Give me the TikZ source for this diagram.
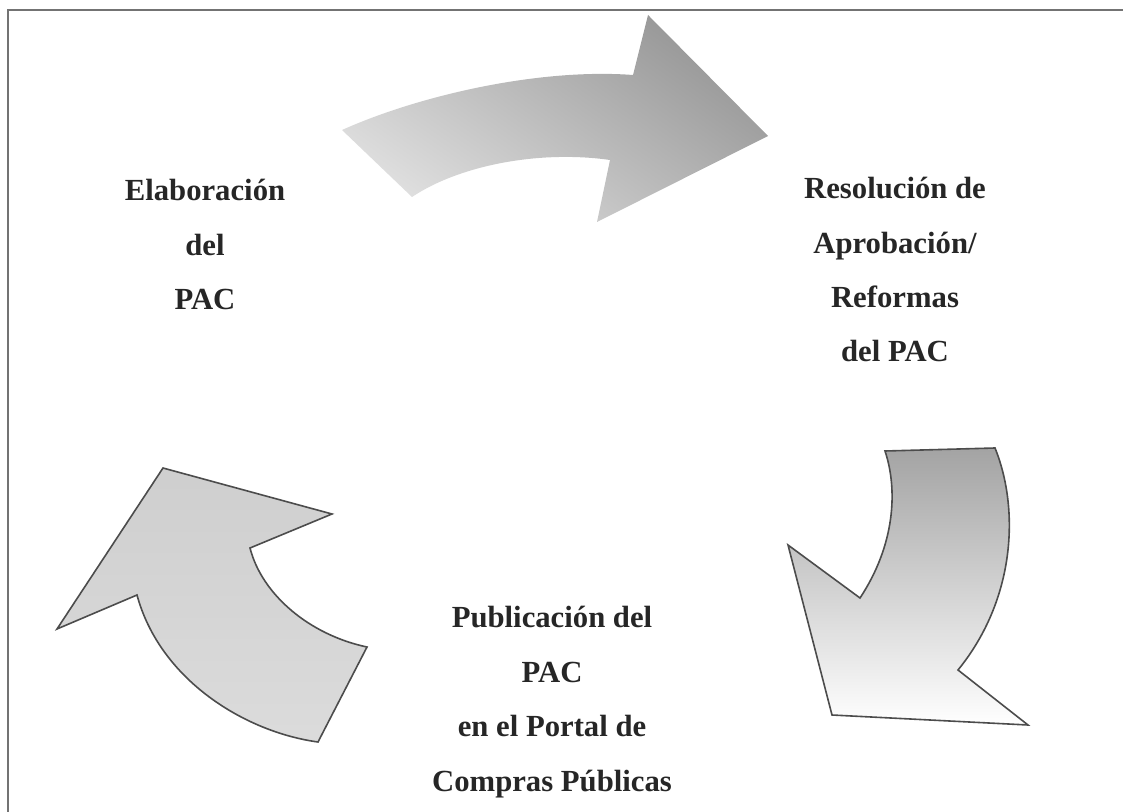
\documentclass[tikz,border=0pt]{standalone}
\usepackage{fontspec}
\setmainfont{Liberation Serif}

\begin{document}
\begin{tikzpicture}[x=0.5pt, y=-0.5pt,
        etapa/.style={align=center, anchor=base, text=black!85,
            font=\fontsize{15.35}{27.25}\selectfont\bfseries},
        flecha/.style={draw=black!70, line width=0.8pt, line join=miter}
        ]
    \useasboundingbox (0,0) rectangle (1123,812);

    % Rahmen
    \draw [line width=1.2pt, black!55] (8,812) -- (8,10) -- (1123,10);

    % Flechas
    \path [top color=gray!82, bottom color=gray!25, shading angle=-35]
        (342,130) .. controls (420,95) and (540,68) .. (633,75)
        -- (648,15) -- (768,136) -- (597,222) -- (610,160)
        .. controls (540,150) and (460,165) .. (412,197) -- cycle;
    \path [flecha, top color=gray!72, middle color=gray!28, bottom color=white]
        (885,451) -- (995,448) .. controls (1020,510) and (1015,600) .. (958,670)
        -- (1028,725) -- (832,715) -- (788,545) -- (860,598)
        .. controls (895,545) and (898,490) .. (885,451) -- cycle;
    \path [flecha, top color=gray!38, bottom color=gray!28]
        (163,468) -- (332,514) -- (250,548)
        .. controls (262,595) and (310,635) .. (367,647) -- (318,742)
        .. controls (245,732) and (160,680) .. (137,595) -- (57,629) -- cycle;

    % Etapas (Anker an der letzten Zeile)
    \node [etapa] (elab)  at (205,310) {Elaboración\\del\\PAC};
    \node [etapa] (resol) at (895,362) {Resolución de\\Aprobación/\\Reformas\\del PAC};
    \node [etapa] (publ)  at (552,791) {Publicación del\\PAC\\en el Portal de\\Compras Públicas};

\end{tikzpicture}
\end{document}
